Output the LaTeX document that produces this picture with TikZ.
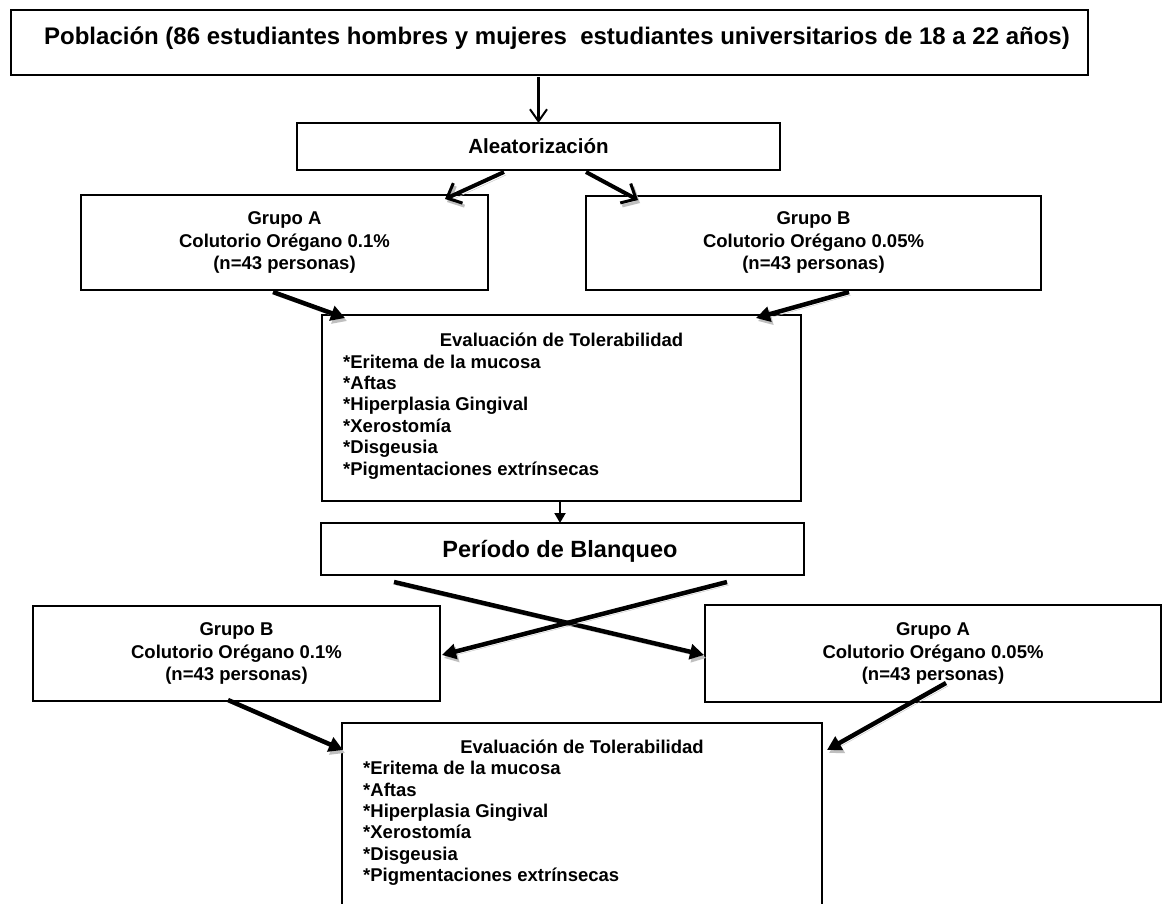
\documentclass[tikz,border=0pt]{standalone}
\usepackage{fontspec}
\setmainfont{Liberation Sans}
\usetikzlibrary{arrows.meta,calc}
\newcommand\myfs[1]{\fontsize{#1}{#1}\selectfont\bfseries}
\begin{document}
\begin{tikzpicture}[x=1pt,y=-1pt,
  box/.style={draw, line width=2pt, inner sep=0pt, outer sep=0pt, fill=white},
  txt/.style={inner sep=0pt, anchor=base, font=\myfs{18.5}},
  itm/.style={inner sep=0pt, anchor=base west, font=\myfs{18.5}},
  shadowed/.style={preaction={draw=black!25, transform canvas={shift={(2pt,-3pt)}}}},
  barbarrow/.style={line width=4pt, -{Straight Barb[length=12pt,width=22pt,line width=3pt]}, shadowed},
  fatarrow/.style={line width=4.5pt, -{Triangle[length=14pt,width=15pt]}, shadowed},
  thinarrow/.style={line width=2pt}
]
\clip (0,0) rectangle (1165,903);
\fill[white] (0,0) rectangle (1165,903);

% boxes
\node[box, minimum width=1077pt, minimum height=65pt] (pob) at (549.5,42.5) {};
\node[box, minimum width=483pt, minimum height=47pt] (alea) at (538.5,146.5) {};
\node[box, minimum width=407pt, minimum height=95pt] (grpA) at (284.5,242.5) {};
\node[box, minimum width=455pt, minimum height=94pt] (grpB) at (813.5,243) {};
\node[box, minimum width=479pt, minimum height=186pt] (ev1) at (561.5,408) {};
\node[box, minimum width=483pt, minimum height=52pt] (per) at (562.5,549) {};
\node[box, minimum width=407pt, minimum height=95pt] (grpB2) at (236.5,653.5) {};
\node[box, minimum width=456pt, minimum height=97pt] (grpA2) at (933,653.5) {};
\node[box, minimum width=480pt, minimum height=200pt] (ev2) at (582,823) {};

% texts
\node[txt, font=\myfs{24}] (tpob) at (557,44) {Población (86 estudiantes hombres y mujeres\ \ estudiantes universitarios de 18 a 22 años)};
\node[txt, font=\myfs{20.5}] (talea) at (538.5,153) {Aleatorización};

\node[txt] (tgA1) at (284.5,224.5) {Grupo A};
\node[txt] (tgA2) at (284.5,247.5) {Colutorio Orégano 0.1\%};
\node[txt] (tgA3) at (284.5,269.5) {(n=43 personas)};

\node[txt] (tgB1) at (813.5,224.5) {Grupo B};
\node[txt] (tgB2) at (813.5,247.5) {Colutorio Orégano 0.05\%};
\node[txt] (tgB3) at (813.5,269.5) {(n=43 personas)};

\node[txt] (tev1) at (561.5,346.5) {Evaluación de Tolerabilidad};
\node[itm] (ia1) at (343,368) {*Eritema de la mucosa};
\node[itm] (ia2) at (343,389.4) {*Aftas};
\node[itm] (ia3) at (343,410.8) {*Hiperplasia Gingival};
\node[itm] (ia4) at (343,432.2) {*Xerostomía};
\node[itm] (ia5) at (343,453.6) {*Disgeusia};
\node[itm] (ia6) at (343,475) {*Pigmentaciones extrínsecas};

\node[txt, font=\myfs{23.5}] (tper) at (560,557) {Período de Blanqueo};

\node[txt] (tgC1) at (236.5,635.5) {Grupo B};
\node[txt] (tgC2) at (236.5,658.5) {Colutorio Orégano 0.1\%};
\node[txt] (tgC3) at (236.5,680.5) {(n=43 personas)};

\node[txt] (tgD1) at (933,635.5) {Grupo A};
\node[txt] (tgD2) at (933,658.5) {Colutorio Orégano 0.05\%};
\node[txt] (tgD3) at (933,680.5) {(n=43 personas)};

\node[txt] (tev2) at (582,753.5) {Evaluación de Tolerabilidad};
\node[itm] (ib1) at (363,774.5) {*Eritema de la mucosa};
\node[itm] (ib2) at (363,796) {*Aftas};
\node[itm] (ib3) at (363,817.5) {*Hiperplasia Gingival};
\node[itm] (ib4) at (363,838.5) {*Xerostomía};
\node[itm] (ib5) at (363,860) {*Disgeusia};
\node[itm] (ib6) at (363,881.5) {*Pigmentaciones extrínsecas};

% connectors
\draw[line width=2.5pt, -{Straight Barb[length=12pt,width=17pt,line width=2pt]}] ($(pob.south -| alea.north)+(0,2)$) -- (alea.north);
\draw[barbarrow] ($(alea.south)+(-34.5,2)$) -- ($(grpA.north east)+(-43,4)$);
\draw[barbarrow] ($(alea.south)+(47.5,2)$) -- ($(grpB.north west)+(52,4)$);
\draw[fatarrow] ($(grpA.south)+(-11.5,2)$) -- ($(ev1.north west)+(23,3)$);
\draw[fatarrow] ($(grpB.south)+(35.5,2)$) -- ($(ev1.north east)+(-45,3)$);
\draw[thinarrow, -{Triangle[length=10pt,width=11pt]}] ($(ev1.south)+(-1.5,1)$) -- ($(ev1.south |- per.north)+(-1.5,0)$);
\draw[fatarrow] ($(per.south west)+(73,7)$) -- ($(grpA2.west)+(-1,1.5)$);
\draw[fatarrow] ($(per.south east)+(-77,7)$) -- ($(grpB2.east)+(2,1.5)$);
\draw[fatarrow] ($(grpB2.south)+(-8.5,-1)$) -- ($(ev2.north west)+(1,27)$);
\draw[fatarrow] ($(grpA2.south)+(13,-19)$) -- ($(ev2.north east)+(5,27)$);
\end{tikzpicture}
\end{document}
